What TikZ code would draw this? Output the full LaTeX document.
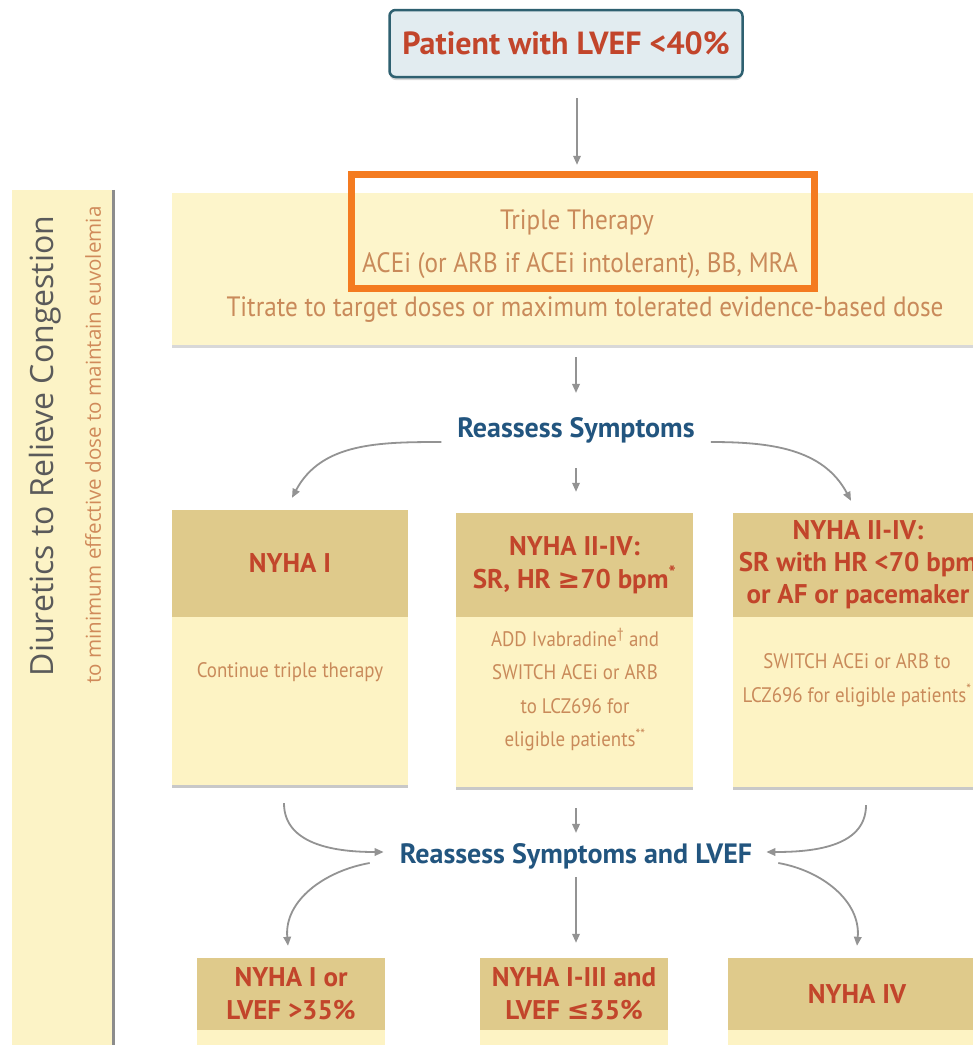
\documentclass[tikz,border=0pt]{standalone}
\usepackage{fontspec}
\setmainfont{PT Sans}
\newfontfamily\condf[FakeStretch=0.9]{PT Sans}
\newfontfamily\condb{PT Sans}
\newfontfamily\sidef{Open Sans}
\newfontfamily\symf{DejaVu Sans}
\usetikzlibrary{arrows.meta,shadows,calc}
\definecolor{hdr}{HTML}{DFCA8B}
\definecolor{bdy}{HTML}{FDF3C4}
\definecolor{bandc}{HTML}{FDF5CB}
\definecolor{sidec}{HTML}{FCF3C6}
\definecolor{redt}{HTML}{C2452B}
\definecolor{bodyt}{HTML}{C98A5A}
\definecolor{bluet}{HTML}{22557F}
\definecolor{topfill}{HTML}{E2ECF0}
\definecolor{topline}{HTML}{2E6070}
\definecolor{orng}{HTML}{F47B20}
\definecolor{arrc}{HTML}{939393}
\definecolor{sidet}{HTML}{5A5A5A}
\definecolor{sidetb}{HTML}{D08A5A}
\tikzset{
  hdrbox/.style={fill=hdr, inner sep=0pt, align=center, text=redt,
    font=\condb\bfseries\fontsize{27}{33}\selectfont},
  bodybox/.style={fill=bdy, inner sep=0pt,
    drop shadow={shadow xshift=0pt, shadow yshift=-3pt, opacity=0.3, fill=black!70}},
  bodytxt/.style={align=center, text=bodyt, inner sep=0pt,
    font=\condf\fontsize{21}{33.5}\selectfont},
  bandtxt/.style={text=bodyt, inner sep=0pt, font=\condf\fontsize{28}{30}\selectfont},
  arr/.style={draw=arrc, line width=1.8pt, -{Triangle[length=9pt,width=7.5pt]}},
  bluelbl/.style={text=bluet, inner sep=2pt, font=\condb\bfseries\fontsize{28}{30}\selectfont},
}
\begin{document}
\begin{tikzpicture}[x=1pt,y=1pt]
\useasboundingbox (0,0) rectangle (973,-1045);
\clip (0,0) rectangle (973,-1045);
\fill[white] (0,0) rectangle (973,-1045);

% side bar
\node[fill=sidec, minimum width=103, minimum height=870, inner sep=0pt] (side) at (63.5,-625) {};
\draw[black!45, line width=3pt] ([xshift=-1.5pt]side.north east) -- ([xshift=-1.5pt]side.south east);
\node[rotate=90, text=sidet, inner sep=0pt, font=\sidef\fontsize{32}{34}\selectfont] (d1) at (45,-446) {Diuretics to Relieve Congestion};
\node[rotate=90, text=sidetb, inner sep=0pt, font=\sidef\fontsize{20.6}{22}\selectfont] (d2) at (93,-445) {to minimum effective dose to maintain euvolemia};

% top node
\node[draw=topline, line width=2.5pt, fill=topfill, rounded corners=6pt,
  minimum width=353, minimum height=67, inner sep=0pt,
  drop shadow={shadow xshift=0pt, shadow yshift=-3pt, opacity=0.25, fill=black!60},
  text=redt, font=\condb\bfseries\fontsize{32}{34}\selectfont] (top) at (566,-43.5) {Patient with LVEF <40\%};

% band
\node[fill=bandc, minimum width=830, minimum height=152, inner sep=0pt,
  drop shadow={shadow xshift=0pt, shadow yshift=-3pt, opacity=0.25, fill=black!60}] (band) at (587,-269) {};
\node[bandtxt] (tt1) at (577,-222) {Triple Therapy};
\node[bandtxt] (tt2) at (580,-266) {ACEi (or ARB if ACEi intolerant), BB, MRA};
\node[bandtxt] (tt3) at (585,-310) {Titrate to target doses or maximum tolerated evidence-based dose};
\node[draw=orng, line width=7pt, minimum width=463, minimum height=114, inner sep=0pt] (hl) at (582.5,-231) {};

% reassess 1
\node[bluelbl] (rs) at (576,-430) {Reassess Symptoms};

% row 1 boxes
\node[bodybox, minimum width=236, minimum height=168] (b1b) at (290,-701) {};
\node[hdrbox, minimum width=236, minimum height=107] (b1h) at (290,-563.5) {NYHA I};
\node[bodybox, minimum width=237, minimum height=170] (b2b) at (574.5,-702) {};
\node[hdrbox, minimum width=237, minimum height=104] (b2h) at (574.5,-565) {NYHA II-IV:\\SR, HR {\symf\bfseries ≥}70 bpm\textsuperscript{*}};
\node[bodybox, minimum width=250, minimum height=170] (b3b) at (858,-702) {};
\node[hdrbox, minimum width=250, minimum height=104, font=\condb\bfseries\fontsize{27}{32}\selectfont] (b3h) at (858,-565) {NYHA II-IV:\\SR with HR <70 bpm\\or AF or pacemaker};

\node[bodytxt] (t1) at (290,-672) {Continue triple therapy};
\node[bodytxt] (t2) at (575,-690) {ADD Ivabradine\textsuperscript{†} and\\SWITCH ACEi or ARB\\to LCZ696 for\\eligible patients\textsuperscript{**}};
\node[bodytxt] (t3) at (857,-680) {SWITCH ACEi or ARB to\\LCZ696 for eligible patients\textsuperscript{*}};

% reassess 2
\node[bluelbl] (rs2) at (576,-856) {Reassess Symptoms and LVEF};

% row 2 boxes
\node[fill=bdy, minimum width=188, minimum height=60, inner sep=0pt] (b4b) at (291,-1060) {};
\node[hdrbox, minimum width=188, minimum height=72] (b4h) at (291,-994) {NYHA I or\\LVEF >35\%};
\node[fill=bdy, minimum width=188, minimum height=60, inner sep=0pt] (b5b) at (574,-1060) {};
\node[hdrbox, minimum width=188, minimum height=72] (b5h) at (574,-994) {NYHA I-III and\\LVEF {\symf\bfseries ≤}35\%};
\node[fill=bdy, minimum width=258, minimum height=60, inner sep=0pt] (b6b) at (857,-1060) {};
\node[hdrbox, minimum width=258, minimum height=72] (b6h) at (857,-994) {NYHA IV};

% connectors
\draw[arr, shorten <=20pt, shorten >=28pt] (top.south -| tt1) -- (band.north -| tt1);
\draw[arr, shorten <=12pt, shorten >=22pt] (band.south -| rs) -- (rs.north);
\draw[arr, shorten <=23pt, shorten >=21pt] (rs.south) -- (b2h.north -| rs);
\draw[arr] ([shift={(-14pt,-12pt)}]rs.west) to[out=180, in=62] ([shift={(2pt,12pt)}]b1h.north);
\draw[arr] ([shift={(14pt,-12pt)}]rs.east) to[out=0, in=118] ([shift={(-7pt,12pt)}]b3h.north);

\draw[arr, shorten <=21pt, shorten >=8pt] (b2b.south -| rs2) -- (rs2.north);
\draw[arr] ([shift={(-6pt,-18pt)}]b1b.south) to[out=-90, in=180] ([shift={(-14pt,4pt)}]rs2.west);
\draw[arr] ([shift={(8pt,-18pt)}]b3b.south) to[out=-90, in=0] ([shift={(12pt,4pt)}]rs2.east);
\draw[arr, shorten <=6pt, shorten >=15pt] (rs2.south) -- (b5h.north -| rs2);
\draw[arr] ([shift={(-28pt,-7pt)}]rs2.west) to[out=190, in=95] ([shift={(-3pt,12pt)}]b4h.north);
\draw[arr] ([shift={(24pt,-7pt)}]rs2.east) to[out=-10, in=85] ([yshift=12pt]b6h.north);
\end{tikzpicture}
\end{document}
